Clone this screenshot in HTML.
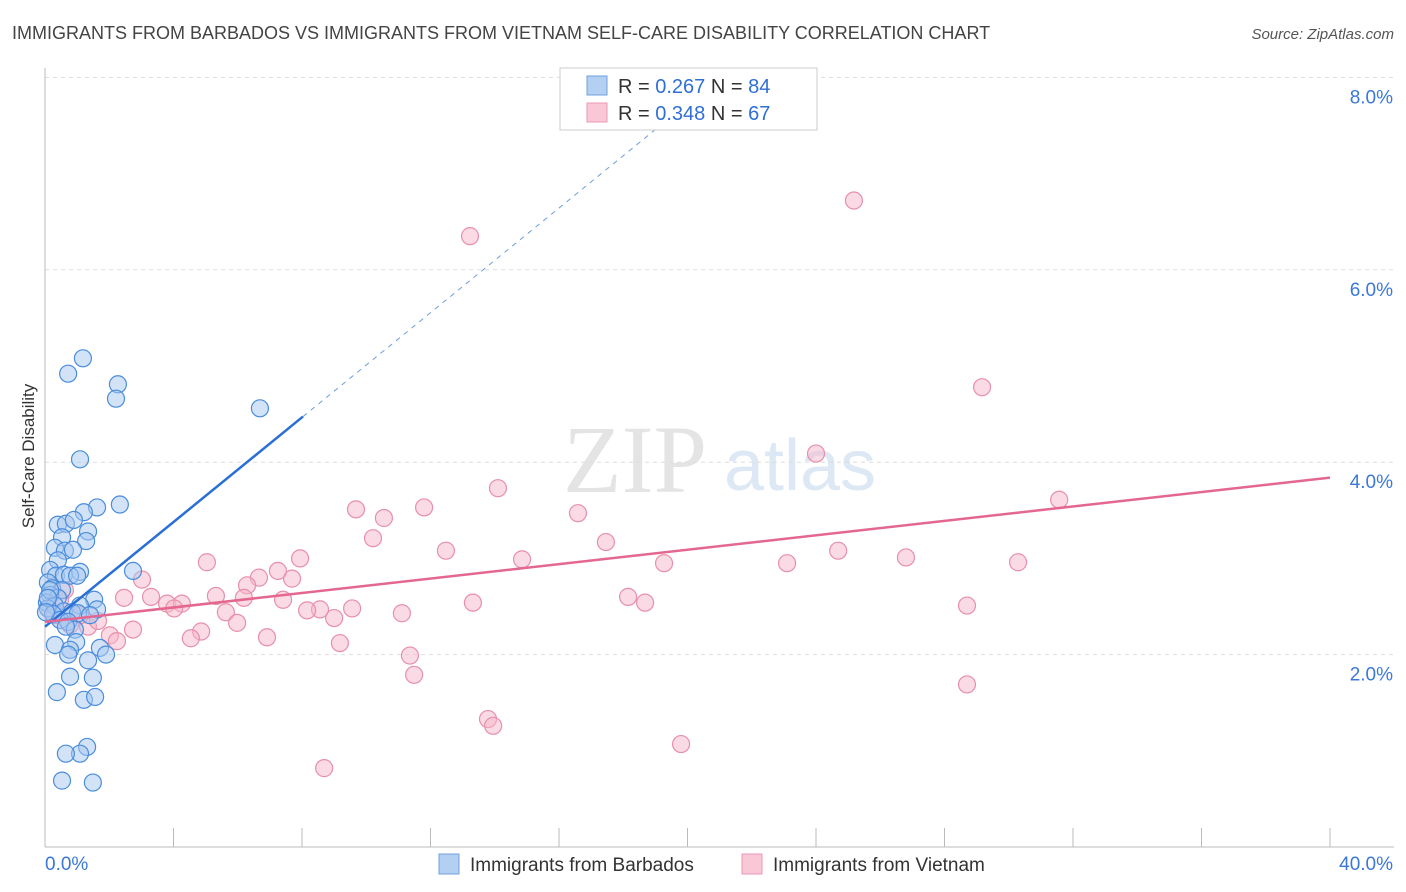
<!DOCTYPE html>
<html><head><meta charset="utf-8"><style>
body{margin:0;background:#fff;font-family:"Liberation Sans",sans-serif}
svg{display:block}
</style></head><body>
<svg id="chart" width="1406" height="892" xmlns="http://www.w3.org/2000/svg" font-family="Liberation Sans, sans-serif">
<text x="12" y="39" font-size="18" fill="#444">IMMIGRANTS FROM BARBADOS VS IMMIGRANTS FROM VIETNAM SELF-CARE DISABILITY CORRELATION CHART</text>
<text x="1394" y="39" font-size="15" fill="#555" text-anchor="end" font-style="italic">Source: ZipAtlas.com</text>
<text transform="translate(34,456) rotate(-90)" font-size="17" fill="#333" text-anchor="middle">Self-Care Disability</text>
<g><text x="635" y="492" font-size="96" fill="#e4e4e4" font-family="Liberation Serif, serif" text-anchor="middle">ZIP</text><text x="800" y="490" font-size="72" fill="#dde8f5" text-anchor="middle">atlas</text></g>
<g id="grid"></g><g id="axes"></g><g id="trend"></g><g id="pts"></g>
<g>
<rect x="560" y="68" width="257" height="62" fill="#fff" stroke="#ccc"/>
<rect x="587" y="76" width="20" height="19" fill="#b3cff2" stroke="#6fa0e0"/>
<rect x="587" y="103" width="20" height="19" fill="#f9c7d6" stroke="#ec9ab4"/>
<text x="618" y="93" font-size="20" fill="#333">R = <tspan fill="#2f6fd6">0.267</tspan>   N = <tspan fill="#2f6fd6">84</tspan></text>
<text x="618" y="120" font-size="20" fill="#333">R = <tspan fill="#2f6fd6">0.348</tspan>   N = <tspan fill="#2f6fd6">67</tspan></text>
</g>
<g>
<rect x="439" y="854" width="20" height="20" fill="#b3cff2" stroke="#6fa0e0"/>
<text x="470" y="871" font-size="19" fill="#333">Immigrants from Barbados</text>
<rect x="742" y="854" width="20" height="20" fill="#f9c7d6" stroke="#ec9ab4"/>
<text x="773" y="871" font-size="19" fill="#333">Immigrants from Vietnam</text>
</g>
</svg>
<script>
const blueX=[1.18,0.72,2.27,2.21,6.69,1.09,1.62,2.33,1.21,0.40,0.65,0.90,1.34,0.53,1.28,0.31,0.62,0.87,0.40,0.16,1.09,2.74,0.34,0.59,0.78,1.00,0.09,0.22,0.53,0.16,0.40,0.06,0.31,0.09,1.53,1.09,1.62,0.59,0.84,1.03,0.25,0.47,0.72,1.40,0.93,0.65,0.31,0.97,0.78,0.72,1.71,1.90,1.34,0.78,1.49,0.37,1.21,1.56,1.31,1.09,0.65,0.53,1.49,0.16,0.09,0.03];
const blueY=[5.08,4.92,4.81,4.66,4.56,4.03,3.53,3.56,3.48,3.35,3.36,3.40,3.28,3.22,3.18,3.11,3.08,3.09,2.98,2.88,2.86,2.87,2.82,2.83,2.82,2.82,2.75,2.69,2.67,2.62,2.59,2.54,2.51,2.48,2.57,2.51,2.47,2.45,2.44,2.43,2.42,2.36,2.34,2.41,2.26,2.29,2.10,2.13,2.05,2.00,2.07,2.00,1.94,1.77,1.76,1.61,1.53,1.56,1.04,0.97,0.97,0.69,0.67,2.67,2.59,2.44];
const pinkX=[13.23,25.18,29.17,24.00,14.10,31.57,9.68,11.80,10.55,16.59,10.21,17.46,12.48,24.69,26.80,14.85,19.27,23.10,30.29,5.04,7.94,3.02,6.66,7.69,7.25,6.29,2.46,3.30,3.80,4.26,5.32,6.19,7.41,8.56,8.16,9.56,4.02,5.63,18.15,18.68,13.32,11.11,28.70,5.98,9.00,1.34,1.65,2.74,4.86,4.54,2.02,2.24,6.91,9.18,11.36,11.49,28.70,13.79,13.95,19.80,8.69,0.47,0.78,0.16,0.31,1.09,0.62];
const pinkY=[6.35,6.72,4.78,4.09,3.73,3.61,3.51,3.53,3.42,3.47,3.21,3.17,3.08,3.08,3.01,2.99,2.95,2.95,2.96,2.96,3.00,2.78,2.80,2.79,2.87,2.72,2.59,2.60,2.53,2.53,2.61,2.59,2.57,2.47,2.46,2.48,2.48,2.44,2.60,2.54,2.54,2.43,2.51,2.33,2.38,2.29,2.35,2.26,2.24,2.17,2.20,2.14,2.18,2.12,1.99,1.79,1.69,1.33,1.26,1.07,0.82,2.57,2.31,2.46,2.41,2.41,2.67];
const blueTrend=[2.29,0.272]; // intercept, slope
const pinkTrend=[2.34,0.0375];
const yTicks=[2,4,6,8];
const yTickLabels=["2.0%","4.0%","6.0%","8.0%"];
const xTicks=[0,4,8,12,16,20,24,28,32,36,40];
const NS="http://www.w3.org/2000/svg";
const X0=45,X1=1330,Y0=847,PY=96.2;
const sx=v=>X0+(v/40)*(X1-X0), sy=v=>Y0-v*PY;
function mk(t,p,a){const e=document.createElementNS(NS,t);for(const k in a)e.setAttribute(k,a[k]);p.appendChild(e);return e;}
const grid=document.getElementById('grid'),axes=document.getElementById('axes'),trend=document.getElementById('trend'),pts=document.getElementById('pts');
yTicks.forEach((v,i)=>{
 const l=mk('line',grid,{x1:X0,x2:1394,y1:sy(v),y2:sy(v),stroke:'#ddd','stroke-dasharray':'4,4'});
 
 
 const t=mk('text',axes,{x:1393,y:sy(v)+26,'font-size':19,fill:'#3b78d8','text-anchor':'end'});
 t.textContent=yTickLabels[i];
 
 
});
const al=mk('line',axes,{x1:X0,x2:X0,y1:68,y2:Y0,stroke:'#bbb'});


const bl=mk('line',axes,{x1:X0,x2:1394,y1:Y0,y2:Y0,stroke:'#bbb'});


xTicks.forEach(v=>{
 const t=mk('line',axes,{x1:sx(v),x2:sx(v),y1:828,y2:Y0,stroke:'#bbb'});
 
 
});
const xl=mk('text',axes,{x:45,y:870,'font-size':19,fill:'#3b78d8'});xl.textContent='0.0%';


const xr=mk('text',axes,{x:1393,y:870,'font-size':19,fill:'#3b78d8','text-anchor':'end'});xr.textContent='40.0%';


function dot(x,y,f,s,name){const c=mk('circle',pts,{cx:sx(x),cy:sy(y),r:8.5,fill:f,'fill-opacity':0.5,stroke:s,'stroke-width':1.2});
 
 }
pinkX.forEach((x,i)=>dot(x,pinkY[i],'#f6b5c9','#e88fab','point-vietnam'));
blueX.forEach((x,i)=>dot(x,blueY[i],'#a8c7ef','#4a8ddc','point-barbados'));
const bEnd=8.03,bDashEnd=21.3;
const b1=mk('line',pts,{x1:sx(0),y1:sy(blueTrend[0]),x2:sx(bEnd),y2:sy(blueTrend[0]+blueTrend[1]*bEnd),stroke:'#2a6fd6','stroke-width':2.5});


const b2=mk('line',pts,{x1:sx(bEnd),y1:sy(blueTrend[0]+blueTrend[1]*bEnd),x2:sx(bDashEnd),y2:sy(blueTrend[0]+blueTrend[1]*bDashEnd),stroke:'#6c9ee0','stroke-width':1,'stroke-dasharray':'5,5'});


const p1=mk('line',pts,{x1:sx(0),y1:sy(pinkTrend[0]),x2:sx(40),y2:sy(pinkTrend[0]+pinkTrend[1]*40),stroke:'#e4678f','stroke-width':2.5});


</script>
</body></html>
